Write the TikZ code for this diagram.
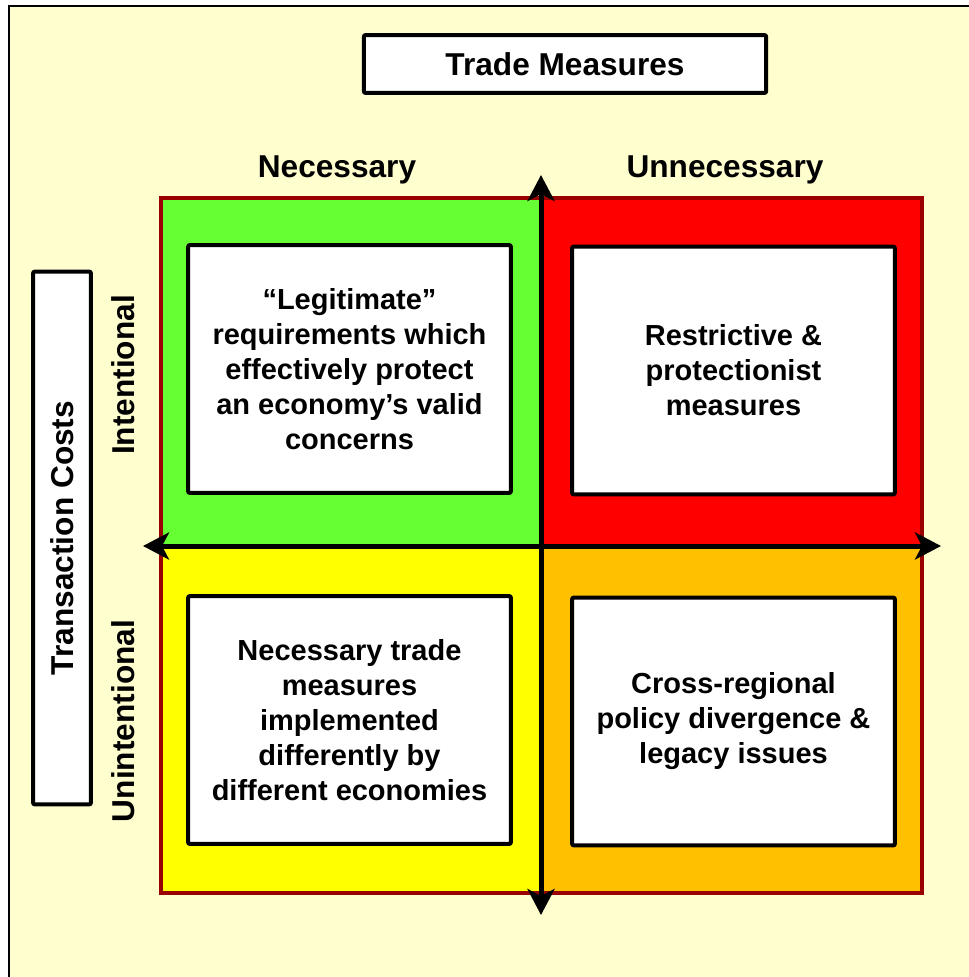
\documentclass[tikz,border=0pt]{standalone}
\usepackage{fontspec}
\setmainfont{Liberation Sans}
\usetikzlibrary{arrows.meta, positioning}
\definecolor{cream}{RGB}{255,254,206}
\definecolor{darkred}{RGB}{153,0,0}
\definecolor{legitgreen}{RGB}{102,255,51}
\definecolor{protectred}{RGB}{255,0,0}
\definecolor{diffyellow}{RGB}{255,255,0}
\definecolor{legacyorange}{RGB}{255,192,0}
\begin{document}
\begin{tikzpicture}[x=0.02cm, y=-0.02cm,
                >={Stealth[length=0.52cm, width=0.54cm, inset=0.14cm]},
                every node/.style={font=\bfseries\fontsize{18}{21.6}\selectfont, align=center},
                box/.style={draw, fill=white, line width=0.08cm, rounded corners=0.04cm, minimum width=6.46cm, minimum height=4.96cm, font=\bfseries\fontsize{16.5}{19.9}\selectfont},
                title/.style={draw, fill=white, line width=0.08cm, rounded corners=0.04cm},
                quad/.style={draw=darkred, line width=0.08cm},
                axis/.style={<->, line width=0.1cm}
                ]
                \useasboundingbox (0,0) rectangle (969,977);
                \fill[cream] (9,6) rectangle (969,977);
                \draw[line width=0.055cm] (9,977) -- (9,6) -- (969,6);

                % quadrants
                \filldraw[quad, fill=legitgreen] (161,198) rectangle (541,546);
                \filldraw[quad, fill=protectred] (541,198) rectangle (922,546);
                \filldraw[quad, fill=diffyellow] (161,546) rectangle (541,893);
                \filldraw[quad, fill=legacyorange] (541,546) rectangle (922,893);

                % axes
                \coordinate (top) at (541,175);
                \coordinate (bottom) at (541,915);
                \coordinate (left) at (143,546);
                \coordinate (right) at (941,546);
                \draw[axis] (top) -- (bottom);
                \draw[axis] (left) -- (right);

                \node[title, minimum width=8.05cm, minimum height=1.16cm] (trade) at (565,64) {Trade Measures};
                \node[title, minimum width=10.66cm, minimum height=1.16cm, rotate=90] (costs) at (62,538) {Transaction Costs};

                \node (nec) at (337,170) {Necessary};
                \node (unnec) at (725,170) {Unnecessary};
                \node[rotate=90] (intent) at (123,375) {Intentional};
                \node[rotate=90] (unintent) at (123,721) {Unintentional};

                \node[box] (legit) at (349.5,369) {``Legitimate''\\requirements which\\effectively protect\\an economy's valid\\concerns};
                \node[box] (restrict) at (733.5,370.5) {Restrictive \&\\protectionist\\measures};
                \node[box] (differ) at (349.5,720) {Necessary trade\\measures\\implemented\\differently by\\different economies};
                \node[box] (diverge) at (733.5,721.5) {Cross-regional\\policy divergence \&\\legacy issues};
\end{tikzpicture}
\end{document}
